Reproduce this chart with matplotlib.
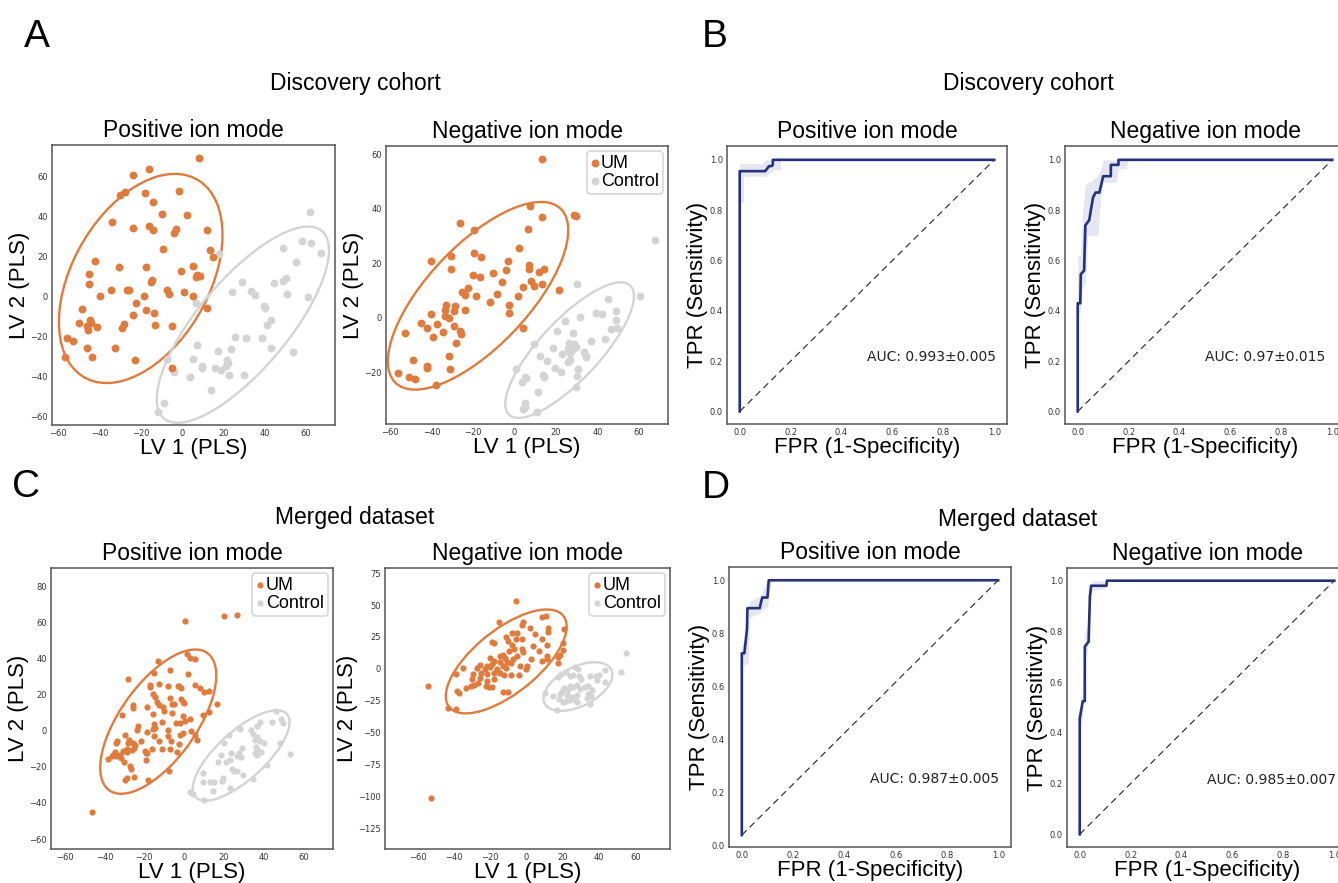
import numpy as np
import matplotlib.pyplot as plt
from matplotlib.patches import Ellipse
import matplotlib.transforms as transforms

plt.rcParams['font.family'] = ['DejaVu Sans']
ARIAL = ['Liberation Sans', 'DejaVu Sans']

ORANGE = '#e07b3e'
GREY = '#d4d4d4'
NAVY = '#27307a'
BAND = '#dfe1ed'

# ---- PLS-DA scores, discovery cohort, positive mode
a_pos_um = np.array([
    (8.4, 69.5), (-16.1, 64), (-23.8, 61.2), (-1.3, 52.8), (-30.2, 51), (-27.7, 52.3), (-18.2, 52),
    (-14.1, 47.5), (-9.8, 41.7), (2.3, 41), (-34.1, 37.5), (-23.6, 34.5), (-16.1, 35.3), (-14.1, 33.3),
    (-2.9, 34.2), (-3.7, 32), (11.8, 33.3), (-9.2, 23.8), (13.4, 23.5), (14.8, 20), (-42.3, 17.8),
    (-30.7, 15), (-17.4, 15.2), (5.3, 15.7), (-44.9, 11.7), (-0.5, 13), (7.3, 11.2), (8.5, 10.3),
    (6.8, 10.2), (-14.5, 8.7), (-15.3, 7.3), (-44.9, 6.7), (-39.9, 0.7), (-34.6, 3.3), (-26.5, 3.7),
    (-25.7, 3.5), (-7.2, 3.5), (-6.4, 1.3), (-18.6, 0.3), (1.1, 2.3), (5.3, 0.3), (-22.1, -3.2),
    (12.1, -5.5), (-48.6, -6), (-17.4, -6.5), (-13.5, -7.8), (-23.7, -8.8), (-49.7, -13), (-44.6, -11.3),
    (-44.2, -13), (-45.8, -16.3), (-46.2, -14.7), (-41, -15), (-28.1, -13.3), (-28.9, -15.5),
    (-13.3, -14.2), (-4.7, -14.7), (-55.7, -20.5), (-52.6, -22), (-46.2, -25.5), (-32.5, -25.5),
    (-56.5, -30), (-43.4, -30.2), (-22.7, -31.3), (-5.1, -35.3)])
a_pos_ctrl = np.array([
    (62, 42.5), (58, 28.2), (62.4, 27), (48.9, 24.3), (67.4, 22), (17.9, 21.7), (55, 17.5), (50.4, 9.7),
    (48.8, 7.8), (44.7, 7), (29, 7.7), (24.3, 2.5), (33.5, 3), (35.4, 1), (50.9, 1.7), (60.8, -0.2),
    (6.5, -2.8), (39.4, -4.7), (40, -5.5), (43, -11.7), (40.9, -13.8), (7.3, -24.2), (25.5, -19.8),
    (30.9, -20.3), (38.8, -20.3), (17.4, -27.2), (23.8, -26.2), (53.9, -27.7), (43.1, -25.7),
    (-7.2, -31), (5.3, -30.8), (21.7, -31.3), (22.2, -33), (21.1, -34.7), (9.5, -34.7), (9.7, -35.7),
    (15.8, -35.7), (19, -36.7), (22.7, -39.2), (29.8, -39.2), (-3.7, -37.5), (4, -40), (14, -46.3),
    (-8.8, -53), (-11.6, -57.3)])

# ---- discovery cohort, negative mode
a_neg_um = np.array([
    (13, 58.4), (7.3, 41), (13.3, 36.8), (28.8, 37.5), (29.6, 37.4), (-26.5, 34.9), (-19.7, 32),
    (6.7, 32.4), (2.2, 25.5), (-30.5, 22.8), (-19.6, 23.9), (-16.2, 22.4), (-40.3, 20.9), (-30.6, 17.8),
    (6.9, 19.4), (6.9, 17.8), (-3.3, 20.9), (-3.9, 17.5), (14.1, 17.8), (11.8, 16.8), (-20.2, 15.5),
    (-16.8, 15.1), (-10.5, 16.3), (-6.0, 13.2), (8, 13.3), (9.3, 11.7), (13.4, 12.4), (4.2, 11.4),
    (21.4, 10.3), (-22.5, 10.8), (-25.4, 9.3), (-18.4, 7.9), (-24.1, 8.4), (-8.6, 8.6), (-12, 5.8),
    (1.5, 7.8), (-2.7, 4.8), (-2.7, 1.8), (-33.1, 4.5), (-33.6, 2.9), (-28.9, 4.3), (-29.2, 2.6),
    (-23.9, 3), (-40.3, 1.5), (-33.6, 0.8), (-31.7, -0.2), (-37.5, -2.2), (-45.3, -1.8), (-42.4, -3.8),
    (-29.2, -3.2), (-34.4, -5.3), (-26.5, -5), (-25.7, -5.9), (-52.9, -5.7), (4.3, -3.8), (-39.4, -7.1),
    (-28.1, -9.1), (-31.5, -14.1), (-42.1, -17.9), (-42.1, -18.5), (-49, -15.5), (-31.3, -18.9),
    (-56, -20.4), (-50.8, -21.6), (-47.9, -22.4), (-37.8, -24.6)])
a_neg_ctrl = np.array([
    (67.8, 28.6), (30.2, 12.2), (60.3, 7.8), (45.2, 6.8), (39.5, 1.9), (42.4, 1.5), (49, 2.3), (49, -1),
    (46.3, -4.1), (49.2, -3.6), (24.1, -1.2), (31.8, 0.1), (20.7, -4.7), (28.1, -5.6), (36.9, -8.5),
    (43.5, -7.9), (9.3, -9.7), (18.6, -11.2), (26.1, -9.2), (28.9, -9.6), (29.6, -10.8), (25.8, -11.4),
    (27.9, -11.7), (26.9, -12.8), (33.4, -12.4), (34.5, -13.9), (34.4, -14.6), (12.2, -14), (15.7, -16),
    (23.1, -13.5), (26.6, -15.5), (25.8, -16.3), (19.3, -18.4), (30.6, -18.9), (0.9, -18.8),
    (5.6, -22.2), (4.9, -21.6), (13.9, -21.1), (14.1, -21.8), (22.5, -20.1), (29.9, -21.3), (3.5, -23.6),
    (11.5, -27.2), (29.8, -25.5), (4.9, -31.4), (4.9, -32.8), (4.1, -33.5), (11, -34.5)])

# ---- merged dataset, positive mode
c_pos_um = np.array([
    (0.7, 60.5), (19.9, 63.4), (26.9, 63.8), (-46.5, -45.1), (1.3, 42.2), (3.2, 40.4), (5.7, 39.8),
    (-12.9, 38.6), (-7.2, 33.4), (2.2, 31.4), (-28.4, 28.8), (-15.2, 31.7), (-17.4, 25.3), (-17.2, 24.4),
    (-12.4, 25.8), (-8, 24.7), (-3.3, 24.7), (-1.7, 23.8), (-2.5, 24.7), (5.5, 25.3), (7.9, 23.4),
    (10.2, 21.6), (12.4, 22), (-15.4, 20.1), (-14.4, 18.8), (-1.7, 17.7), (-0.5, 16.1), (0.2, 15.2),
    (-6, 15), (-7, 18.3), (-25.7, 14.2), (-25.9, 12.6), (-31.3, 8.5), (-13.4, 16.1), (-12.4, 14.1),
    (-10.7, 13), (16.5, 14.8), (9.5, 8.9), (12.4, 10.4), (-18.5, 13.3), (-15.5, 9.3), (-10.2, 10.6),
    (-6.2, 9.6), (-5.3, 14.8), (-0.5, 8.2), (3.2, 6.7), (0.7, 5.4), (-4.2, 4.5), (-23.1, 2.8),
    (-23.8, 0.6), (-18.9, -0.9), (-15.2, 3.4), (-11.2, 5), (-14.4, 1.5), (-15.4, 0.8), (-8, 0.4),
    (-2, 4.1), (-0.5, -1.4), (3.5, -0.2), (5.5, -2.2), (6.5, -5.1), (-29.6, -2.5), (-27.6, -5.1),
    (-21.7, -5.7), (-33.8, -5.7), (-34.4, -6.6), (-28.1, -6.6), (-25.9, -6.8), (-24.6, -8.2),
    (-15, -2.7), (-12.7, -5.7), (-7.9, -2.7), (-2, -2.3), (-6.5, -6), (-2.7, -7.5), (-28.7, -10.2),
    (-26.1, -10.8), (-25.2, -9.5), (-18.5, -12.1), (-16, -9.9), (-11.2, -10.1), (-7, -10.1),
    (-3.5, -11.9), (-34.9, -11.7), (-35.1, -13.2), (-32.3, -13.4), (-30.9, -11.4), (-28.6, -11.6),
    (-38.1, -15.6), (-36.4, -13.9), (-34.4, -14.3), (-31.9, -15.4), (-19.9, -11.5), (-19.1, -12.5),
    (-19.2, -16.2), (-30.2, -17.3), (-27.4, -19.8), (-26.6, -21.3), (-7.4, -22.4), (-29.7, -27.2),
    (-28.6, -26.3), (-25.4, -25.9), (-18.4, -27.2)])
c_pos_ctrl = np.array([
    (46.1, 10.6), (48.6, 6.3), (49.6, 4.1), (44.1, 4.8), (38.3, 4.8), (36.6, 2.3), (27.9, 1.3),
    (28.2, 0.8), (22.6, -2.3), (33.8, 0.4), (34.9, -1.8), (36.6, -3.3), (35.8, -5.1), (38.3, -6),
    (40.5, -7), (19.9, -7.1), (48.3, -6.6), (53.5, -13), (36.3, -8.8), (36.6, -10.1), (38.5, -11.6),
    (35.8, -12.5), (36.8, -13.4), (29.1, -9.5), (27.9, -12.5), (26.9, -14.3), (28.8, -14.7),
    (18.7, -13.4), (23.7, -12.3), (23.2, -16.2), (21.2, -17.3), (17.1, -17.4), (41.6, -18.9),
    (24.2, -21.3), (24.9, -22.6), (26.7, -22.4), (9.4, -23.5), (29.9, -24.3), (19.6, -26.1),
    (19.2, -27.6), (13.2, -28.7), (15.2, -28.7), (34.9, -26.8), (9.4, -28.7), (23.2, -31.8),
    (14.4, -33.5), (3.2, -34.2), (4.5, -35.1), (10.2, -38.6)])

# ---- merged dataset, negative mode
c_neg_um = np.array([
    (-5.7, 53.3), (-54.1, -13.5), (-52.7, -100.7), (-15.2, 36.9), (-1.8, 36.4), (-2.7, 34.3),
    (8.6, 40.3), (10.6, 41.6), (-8.1, 28), (-5.5, 28.5), (1.8, 31.9), (4.6, 27.2), (11.9, 32.4),
    (11.9, 29), (20.5, 31.1), (-11.2, 24.6), (-10.4, 22), (-17.9, 20.2), (-19.2, 20.7), (-5.7, 23.8),
    (-2.7, 23.3), (8.4, 23.3), (3.3, 18.1), (11, 19.1), (20.1, 20.2), (-7.9, 19.1), (-6.8, 15.5),
    (-9.9, 14.2), (-2.7, 15.5), (-1.8, 13.4), (7.1, 13.9), (19.8, 15), (18.3, 10.8), (17.4, 9.7),
    (11.2, 10.3), (-12.8, 10.8), (-11.9, 8.2), (-5.3, 10.3), (2.2, 7.6), (11, 7.6), (17.4, 5),
    (8.4, 6.3), (-20.1, 8.2), (-17.7, 6.3), (-14.4, 10.3), (-14.6, 5.2), (-10.9, 5.7), (-12.9, 2.6),
    (-8.5, 4.5), (-7.4, 7.6), (-25.6, 3), (-22, 2.4), (-19.2, 3.7), (-3.5, 2.4), (0, 2.4), (-0.6, -0.2),
    (-27.4, 0.6), (-22.8, 0.1), (-20.1, 1.1), (-16.5, 0.1), (-11.5, 0.6), (-34.9, 0.6), (-24.9, -3.2),
    (-21.6, -3.7), (-18, -3.2), (-14.7, -3.2), (-12.5, -4.5), (-8.5, -4.5), (-4.3, -5),
    (-38.8, -4.1), (-29.3, -4.1), (-30.2, -8), (-25.6, -7.5), (-22, -9.4), (-17.7, -8),
    (-33.5, -15.3), (-38.1, -17.2), (-37.2, -19), (-20.9, -14.2), (-19.1, -14.5), (-22.6, -13.7),
    (-13.2, -18), (-10.1, -18), (-43.2, -30.7), (-39, -31), (-26.5, -10.9), (-28.9, -12.7),
    (-30.9, -13.2)])
c_neg_ctrl = np.array([
    (54.9, 12.1), (51.9, -2.8), (43.3, -1), (26.5, 1.1), (28.3, -0.2), (21.6, -2.8), (18.8, -4.1),
    (17.4, -6.7), (23.7, -5.7), (25.6, -4.7), (28.8, -5.7), (30.1, -7.8), (34.7, -5.2), (38.3, -5.7),
    (40.1, -4.7), (38.7, -8.3), (23.7, -13), (25.6, -14.2), (27.7, -12.4), (29.2, -15.5),
    (31.9, -14.2), (33.8, -13.4), (36, -16.3), (33.8, -19.5), (43.2, -10.6), (20.8, -15),
    (22.6, -16.6), (19.3, -17.6), (10.3, -19.2), (14.5, -21.5), (18.5, -19.8), (17.6, -23.6),
    (22.2, -20.8), (24.8, -22.3), (25.9, -23.3), (28, -20.8), (33.5, -22.8), (35.4, -21.3),
    (19.8, -25.8), (17, -32), (27.5, -26.3), (34.8, -27.6), (23.7, -24.3), (21.9, -25.5)])

# ---- mean ROC curves with +-1 std band
b_pos_fpr = [0, 0, 0.10, 0.115, 0.125, 0.13, 0.13, 1.0]
b_pos_tpr = [0, 0.955, 0.955, 0.975, 0.975, 0.98, 1.0, 1.0]
b_pos_bx = [0, 0.015, 0.015, 0.09, 0.10, 0.13, 0.13, 0.16, 0.16, 1.0]
b_pos_lo = [0.83, 0.83, 0.935, 0.935, 0.935, 0.955, 0.96, 0.96, 1.0, 1.0]
b_pos_hi = [0.985, 0.985, 0.985, 0.985, 1.0, 1.0, 1.0, 1.0, 1.0, 1.0]

b_neg_fpr = [0, 0, 0.01, 0.012, 0.025, 0.03, 0.045, 0.06, 0.07, 0.085, 0.10, 0.13, 0.13, 0.16, 0.16, 1.0]
b_neg_tpr = [0, 0.43, 0.43, 0.545, 0.56, 0.74, 0.76, 0.85, 0.87, 0.87, 0.935, 0.935, 0.98, 0.98, 1.0, 1.0]
b_neg_bx = [0, 0.01, 0.02, 0.03, 0.04, 0.06, 0.08, 0.09, 0.10, 0.15, 0.16, 0.19, 0.20, 1.0]
b_neg_lo = [0.39, 0.39, 0.50, 0.51, 0.70, 0.70, 0.70, 0.85, 0.91, 0.91, 0.965, 0.965, 1.0, 1.0]
b_neg_hi = [0.62, 0.62, 0.80, 0.90, 0.91, 0.92, 0.94, 0.96, 1.0, 1.0, 1.0, 1.0, 1.0, 1.0]

d_pos_fpr = [0, 0, 0.01, 0.015, 0.02, 0.022, 0.07, 0.075, 0.08, 0.10, 0.105, 1.0]
d_pos_tpr = [0.04, 0.725, 0.725, 0.77, 0.815, 0.895, 0.895, 0.918, 0.935, 0.935, 1.0, 1.0]
d_pos_bx = [0, 0.01, 0.025, 0.03, 0.07, 0.08, 0.10, 0.11, 0.12, 1.0]
d_pos_lo = [0.68, 0.68, 0.69, 0.86, 0.875, 0.89, 0.90, 0.96, 1.0, 1.0]
d_pos_hi = [0.76, 0.78, 0.86, 0.92, 0.94, 0.96, 1.0, 1.0, 1.0, 1.0]

d_neg_fpr = [0, 0, 0.012, 0.02, 0.02, 0.035, 0.04, 0.045, 0.105, 0.107, 1.0]
d_neg_tpr = [0, 0.457, 0.525, 0.525, 0.74, 0.76, 0.94, 0.98, 0.98, 1.0, 1.0]
d_neg_bx = [0, 0.01, 0.02, 0.03, 0.04, 0.05, 0.10, 0.11, 1.0]
d_neg_lo = [0.42, 0.45, 0.69, 0.72, 0.90, 0.96, 0.97, 1.0, 1.0]
d_neg_hi = [0.48, 0.58, 0.80, 0.82, 0.98, 1.0, 1.0, 1.0, 1.0]

auc_labels = ['AUC: 0.993\u00b10.005', 'AUC: 0.97\u00b10.015', 'AUC: 0.987\u00b10.005', 'AUC: 0.985\u00b10.007']

W, H = 1338, 883
fig = plt.figure(figsize=(W / 100, H / 100), dpi=100)


def box(l, t, r, b):
    return [l / W, 1 - b / H, (r - l) / W, (b - t) / H]


def style(ax):
    for s in ax.spines.values():
        s.set_color('#555555')
        s.set_linewidth(1.1)
    ax.tick_params(length=0, labelsize=6, pad=3, labelcolor='#333333')


def conf_ellipse(ax, pts, color, n_std=2.0):
    x, y = pts[:, 0], pts[:, 1]
    cov = np.cov(x, y)
    r = cov[0, 1] / np.sqrt(cov[0, 0] * cov[1, 1])
    ell = Ellipse((0, 0), width=2 * np.sqrt(1 + r), height=2 * np.sqrt(1 - r),
                  facecolor='none', edgecolor=color, lw=1.7)
    t = transforms.Affine2D().rotate_deg(45).scale(np.sqrt(cov[0, 0]) * n_std, np.sqrt(cov[1, 1]) * n_std)
    t = t.translate(x.mean(), y.mean())
    ell.set_transform(t + ax.transData)
    ax.add_patch(ell)


def scores(rect, um, ctrl, title, xlim, ylim, yticks, s, legend):
    ax = fig.add_axes(box(*rect))
    ax.scatter(um[:, 0], um[:, 1], s=s, color=ORANGE, label='UM', zorder=3, linewidths=0)
    ax.scatter(ctrl[:, 0], ctrl[:, 1], s=s, color=GREY, label='Control', zorder=2, linewidths=0)
    conf_ellipse(ax, um, ORANGE)
    conf_ellipse(ax, ctrl, GREY)
    ax.set_xlim(*xlim)
    ax.set_ylim(*ylim)
    ax.set_xticks([-60, -40, -20, 0, 20, 40, 60])
    ax.set_yticks(yticks)
    style(ax)
    ax.set_title(title, family=ARIAL, fontsize=16.5, pad=6)
    ax.set_xlabel('LV 1 (PLS)', family=ARIAL, fontsize=16, labelpad=0)
    ax.set_ylabel('LV 2 (PLS)', family=ARIAL, fontsize=16, labelpad=0)
    if legend:
        leg = ax.legend(loc='upper right', prop={'family': ARIAL, 'size': 13}, handlelength=0.4,
                        handletextpad=0.15, borderpad=0.2, labelspacing=0.05, borderaxespad=0.3,
                        markerscale=1.0, frameon=True, fancybox=True)
        leg.get_frame().set_edgecolor('#cccccc')
        leg.get_frame().set_linewidth(1.2)
    return ax


def roc(rect, fpr, tpr, bx, lo, hi, title, auc, auc_y, ylim):
    ax = fig.add_axes(box(*rect))
    ax.fill_between(bx, lo, hi, color=BAND, alpha=0.8, lw=0)
    ax.plot([0, 1], [tpr[0], 1], ls=(0, (6, 4)), color='#222222', lw=0.8)
    ax.plot(fpr, tpr, color=NAVY, lw=1.9)
    ax.text(0.5, auc_y, auc, fontsize=10, color='#222222')
    ax.set_xlim(-0.05, 1.05)
    ax.set_ylim(*ylim)
    ax.set_xticks(np.arange(0, 1.01, 0.2))
    ax.set_yticks(np.arange(0, 1.01, 0.2))
    style(ax)
    ax.set_title(title, family=ARIAL, fontsize=16.5, pad=6)
    ax.set_xlabel('FPR (1-Specificity)', family=ARIAL, fontsize=16, labelpad=0)
    ax.set_ylabel('TPR (Sensitivity)', family=ARIAL, fontsize=16, labelpad=1)
    return ax


scores((52, 145, 335, 425), a_pos_um, a_pos_ctrl, 'Positive ion mode', (-63, 74), (-64, 76),
       [-60, -40, -20, 0, 20, 40, 60], 32, False)
scores((386, 146, 668, 424), a_neg_um, a_neg_ctrl, 'Negative ion mode', (-62, 74), (-39, 63),
       [-20, 0, 20, 40, 60], 32, True)
scores((51, 568, 333, 849), c_pos_um, c_pos_ctrl, 'Positive ion mode', (-67, 75), (-65.5, 90),
       [-60, -40, -20, 0, 20, 40, 60, 80], 20, True)
scores((385, 568, 670, 849), c_neg_um, c_neg_ctrl, 'Negative ion mode', (-78, 79), (-141, 79),
       [-125, -100, -75, -50, -25, 0, 25, 50, 75], 20, True)

roc((727, 146, 1007, 424), b_pos_fpr, b_pos_tpr, b_pos_bx, b_pos_lo, b_pos_hi, 'Positive ion mode',
    auc_labels[0], 0.2, (-0.05, 1.055))
roc((1065, 146, 1345, 424), b_neg_fpr, b_neg_tpr, b_neg_bx, b_neg_lo, b_neg_hi, 'Negative ion mode',
    auc_labels[1], 0.2, (-0.05, 1.055))
roc((729, 567, 1011, 847), d_pos_fpr, d_pos_tpr, d_pos_bx, d_pos_lo, d_pos_hi, 'Positive ion mode',
    auc_labels[2], 0.235, (-0.005, 1.05))
roc((1067, 568, 1347, 847), d_neg_fpr, d_neg_tpr, d_neg_bx, d_neg_lo, d_neg_hi, 'Negative ion mode',
    auc_labels[3], 0.2, (-0.05, 1.05))

# panel letters and group headings
for letter, (x, y) in zip('ABCD', [(24, 47), (702, 47), (12, 497), (702, 498)]):
    fig.text(x / W, 1 - y / H, letter, family=ARIAL, fontsize=28, va='baseline')
for txt, (x, y) in zip(['Discovery cohort', 'Discovery cohort', 'Merged dataset', 'Merged dataset'],
                       [(355, 90), (1028, 90), (355, 524), (1018, 526)]):
    fig.text(x / W, 1 - y / H, txt, family=ARIAL, fontsize=16.5, ha='center', va='baseline')

fig.savefig('out.png', dpi=100)
